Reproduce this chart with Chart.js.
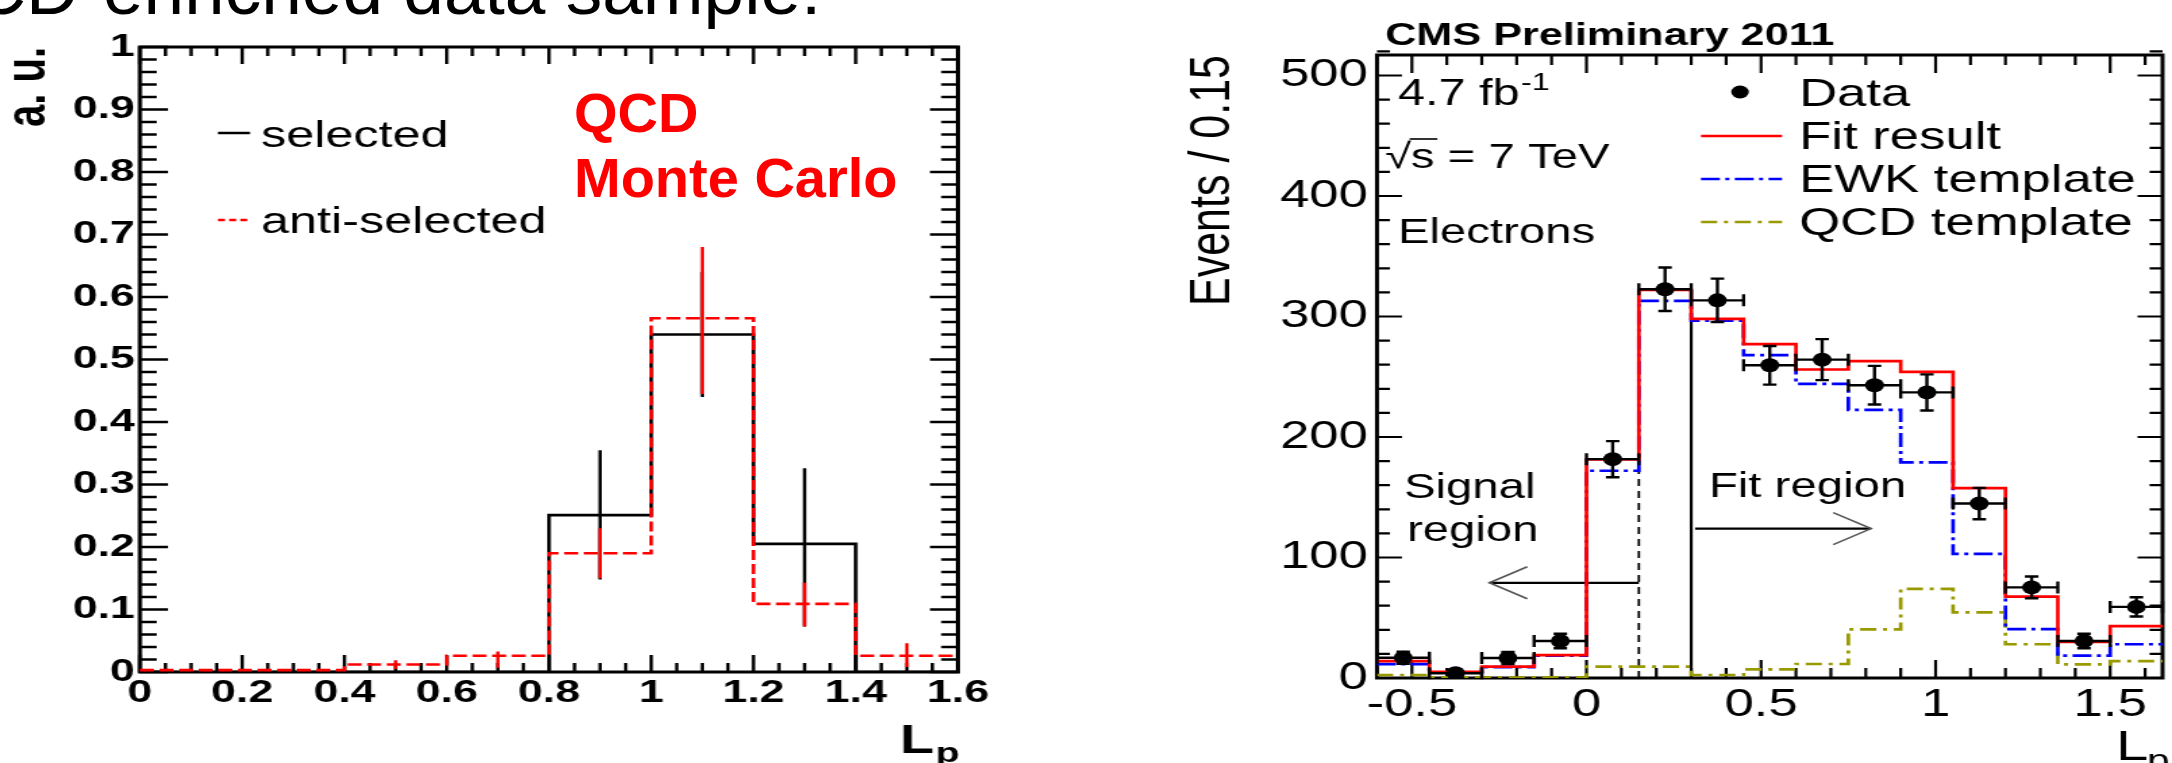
<!DOCTYPE html>
<html>
<head>
<meta charset="utf-8">
<title>QCD-enriched data sample</title>
<script src="https://cdn.jsdelivr.net/npm/chart.js@4.4.1/dist/chart.umd.min.js"></script>
<style>
  html, body { margin: 0; padding: 0; background: #fff; }
  body { width: 2172px; height: 763px; position: relative; overflow: hidden; font-family: "Liberation Sans", Arial, sans-serif; }
  #slide-title { position: absolute; top: -48px; left: -83px; font-size: 73px; line-height: 73px; white-space: nowrap; color: #000; }
  #mc-label { position: absolute; left: 574px; top: 80px; font-size: 56px; line-height: 65px; font-weight: bold; color: #ff0000; white-space: nowrap; }
  #left-chart { position: absolute; left: 0; top: 0; }
  #right-chart { position: absolute; left: 1140px; top: 0; }
</style>
</head>
<body>
<div id="slide-title">QCD-enriched data sample:</div>
<canvas id="left-chart" width="786" height="763" style="width:1100px;height:763px"></canvas>
<canvas id="right-chart" width="764" height="763" style="width:1032px;height:763px"></canvas>
<div id="mc-label">QCD<br>Monte Carlo</div>
<script>
const FONT = '"Liberation Sans", Arial, sans-serif';

// left panel: QCD Monte Carlo, selected vs anti-selected
const edgesL = [0, 0.2, 0.4, 0.6, 0.8, 1.0, 1.2, 1.4, 1.6];
const selected = [0, 0, 0, 0, 0.251, 0.54, 0.205, 0];
const antiSelected = [0.003, 0.003, 0.012, 0.026, 0.19, 0.566, 0.109, 0.026];
const selErrX = [0.9, 1.1, 1.3];
const selErrLo = [0.148, 0.44, 0.073];
const selErrHi = [0.355, 0.64, 0.326];
const antiErrX = [0.5, 0.7, 0.9, 1.1, 1.3, 1.5];
const antiErrLo = [0.005, 0.007, 0.15, 0.445, 0.073, 0.008];
const antiErrHi = [0.019, 0.033, 0.23, 0.68, 0.143, 0.046];
const xTicksL = [0, 0.2, 0.4, 0.6, 0.8, 1, 1.2, 1.4, 1.6];
const xLabelsL = ["0", "0.2", "0.4", "0.6", "0.8", "1", "1.2", "1.4", "1.6"];
const yTicksL = [0, 0.1, 0.2, 0.3, 0.4, 0.5, 0.6, 0.7, 0.8, 0.9, 1];
const yLabelsL = ["0", "0.1", "0.2", "0.3", "0.4", "0.5", "0.6", "0.7", "0.8", "0.9", "1"];

// right panel: CMS electrons, Lp fit
const edgesR = [-0.6, -0.45, -0.3, -0.15, 0, 0.15, 0.3, 0.45, 0.6, 0.75, 0.9, 1.05, 1.2, 1.35, 1.5, 1.65];
const fitR = [14, 5, 9.4, 19, 181.5, 322, 298, 277, 256, 263, 254, 157.5, 67.5, 30, 43];
const ewkR = [11.5, 4.5, 9, 18.5, 172, 313, 296.5, 268, 244, 222.5, 179, 103, 40.5, 18.5, 28];
const qcdR = [2.5, 0.5, 0.4, 0.5, 9.4, 9.4, 2.5, 7.2, 11.6, 40.4, 74, 54.5, 28, 11.3, 14];
const dataR = [16.8, 4, 16.6, 30.7, 181.6, 322.6, 313.4, 259.5, 264.2, 243, 237, 144.8, 75.2, 30.7, 59];
const dataErrR = [5, 3, 5, 6, 15, 18, 18, 16, 17, 16, 15, 13, 9, 6, 8];
const xTicksR = [-0.5, 0, 0.5, 1, 1.5];
const xLabelsR = ["-0.5", "0", "0.5", "1", "1.5"];
const yTicksR = [0, 100, 200, 300, 400, 500];
const yLabelsR = ["0", "100", "200", "300", "400", "500"];
// region separators and arrows (data coordinates)
const signalCutX = 0.15, signalCutTop = 190;
const fitCutX = 0.3, fitCutTop = 322;
const signalArrowX = [0.15, -0.278], signalArrowY = 79;
const fitArrowX = [0.311, 0.815], fitArrowY = 124;

// place the slide title so that "enriched" starts where it does in the slide
(function () {
  const c = document.createElement("canvas").getContext("2d");
  c.font = "73px " + FONT;
  document.getElementById("slide-title").style.left = (103 - c.measureText("QCD-").width) + "px";
})();

function histPoints(edges, values) {
  const pts = values.map((v, i) => ({ x: edges[i], y: v }));
  pts.push({ x: edges[edges.length - 1], y: values[values.length - 1] });
  return pts;
}

function drawFrame(chart, o) {
  const { ctx, chartArea: a } = chart;
  const xs = chart.scales.x, ys = chart.scales.y;
  ctx.save();
  ctx.strokeStyle = "#000";
  ctx.lineWidth = o.tickWidth;
  ctx.beginPath();
  const nx = Math.round((xs.max - o.xStart) / o.xMinor);
  for (let i = 0; i <= nx; i++) {
    const v = o.xStart + i * o.xMinor;
    const major = Math.abs(v / o.xMajor - Math.round(v / o.xMajor)) < 1e-6;
    const len = major ? o.xLen[1] : o.xLen[0];
    const px = xs.getPixelForValue(v);
    ctx.moveTo(px, a.bottom); ctx.lineTo(px, a.bottom - len);
    ctx.moveTo(px, a.top); ctx.lineTo(px, a.top + len);
  }
  const ny = Math.round((ys.max - 0) / o.yMinor);
  for (let i = 0; i <= ny; i++) {
    const v = i * o.yMinor;
    const major = Math.abs(v / o.yMajor - Math.round(v / o.yMajor)) < 1e-6;
    const len = major ? o.yLen[1] : o.yLen[0];
    const py = ys.getPixelForValue(v);
    ctx.moveTo(a.left, py); ctx.lineTo(a.left + len, py);
    ctx.moveTo(a.right, py); ctx.lineTo(a.right - len, py);
  }
  ctx.stroke();
  ctx.lineWidth = o.frame;
  ctx.strokeRect(a.left, a.top, a.right - a.left, a.bottom - a.top);
  ctx.restore();
}

function drawVErrors(chart, xsVals, lo, hi, color, width) {
  const { ctx } = chart;
  const xs = chart.scales.x, ys = chart.scales.y;
  ctx.save();
  ctx.strokeStyle = color;
  ctx.lineWidth = width;
  ctx.beginPath();
  xsVals.forEach((x, i) => {
    const px = xs.getPixelForValue(x);
    ctx.moveTo(px, ys.getPixelForValue(lo[i]));
    ctx.lineTo(px, ys.getPixelForValue(hi[i]));
  });
  ctx.stroke();
  ctx.restore();
}

const leftDecor = {
  id: "leftDecor",
  beforeDatasetsDraw(chart) {
    drawFrame(chart, { frame: 3, tickWidth: 2.4, xStart: 0, xMinor: 0.05, xMajor: 0.2,
      yMinor: 0.02, yMajor: 0.1, xLen: [9, 17], yLen: [12, 20] });
  },
  afterDatasetDraw(chart, args) {
    const ds = chart.data.datasets[args.index];
    if (ds.errX) drawVErrors(chart, ds.errX, ds.errLo, ds.errHi, ds.borderColor, 2.4);
  },
  afterDraw(chart) {
    const { ctx } = chart;
    ctx.save();
    // legend
    const rows = [{ ds: chart.data.datasets[0], y: 133, base: 147 },
                  { ds: chart.data.datasets[1], y: 220, base: 233 }];
    ctx.font = "36px " + FONT;
    ctx.fillStyle = "#000";
    rows.forEach(r => {
      ctx.strokeStyle = r.ds.borderColor;
      ctx.lineWidth = 2.5;
      ctx.setLineDash(r.ds.borderDash ? [5, 3] : []);
      ctx.beginPath();
      ctx.moveTo(155.7, r.y); ctx.lineTo(178.6, r.y);
      ctx.stroke();
      ctx.fillText(r.ds.label, 186.4, r.base);
    });
    ctx.setLineDash([]);
    // axis label L_p
    ctx.font = "bold 40px " + FONT;
    ctx.fillText("L", 643, 753);
    const wl = ctx.measureText("L").width;
    ctx.font = "bold 28px " + FONT;
    ctx.fillText("p", 643 + wl + 1, 762);
    ctx.restore();
  }
};

new Chart(document.getElementById("left-chart"), {
  type: "line",
  data: {
    datasets: [
      { label: "selected", data: histPoints(edgesL, selected), borderColor: "#000000",
        borderWidth: 2.6, stepped: "before", pointRadius: 0, fill: false, order: 1,
        errX: selErrX, errLo: selErrLo, errHi: selErrHi },
      { label: "anti-selected", data: histPoints(edgesL, antiSelected), borderColor: "#ff0000",
        borderWidth: 2.6, borderDash: [10, 4], stepped: "before", pointRadius: 0, fill: false, order: 0,
        errX: antiErrX, errLo: antiErrLo, errHi: antiErrHi }
    ]
  },
  options: {
    responsive: false, animation: false, devicePixelRatio: 1, events: [],
    layout: { padding: { left: 0, top: 47, right: 786 - 684.5, bottom: 0 } },
    plugins: { legend: { display: false }, tooltip: { enabled: false } },
    scales: {
      x: {
        type: "linear", min: 0, max: 1.6,
        grid: { display: false, drawTicks: false }, border: { display: false },
        afterBuildTicks: s => { s.ticks = xTicksL.map(v => ({ value: v })); },
        afterFit: s => { s.height = 91; },
        ticks: { autoSkip: false, maxRotation: 0, minRotation: 0, padding: 2.3, color: "#000",
          font: { family: FONT, size: 32, weight: "bold" }, callback: (v, i) => xLabelsL[i] }
      },
      y: {
        type: "linear", min: 0, max: 1,
        grid: { display: false, drawTicks: false }, border: { display: false },
        afterBuildTicks: s => { s.ticks = yTicksL.map(v => ({ value: v })); },
        afterFit: s => { s.width = 100; },
        title: { display: true, text: "a. u.", align: "end", color: "#000",
          font: { family: FONT, size: 40, weight: "bold" }, padding: { top: -3, bottom: 0 } },
        ticks: { autoSkip: false, padding: 3.6, color: "#000",
          font: { family: FONT, size: 32, weight: "bold" }, callback: (v, i) => yLabelsL[i] }
      }
    }
  },
  plugins: [leftDecor]
});

const rightDecor = {
  id: "rightDecor",
  beforeDatasetsDraw(chart) {
    drawFrame(chart, { frame: 3, tickWidth: 2.2, xStart: -0.6, xMinor: 0.1, xMajor: 0.5,
      yMinor: 20, yMajor: 100, xLen: [10, 18], yLen: [9.6, 18.5] });
    const { ctx } = chart;
    const xs = chart.scales.x, ys = chart.scales.y;
    ctx.save();
    ctx.strokeStyle = "#000";
    // signal region boundary (dashed) and fit region boundary (solid)
    ctx.lineWidth = 1.8;
    ctx.setLineDash([7, 5]);
    ctx.beginPath();
    ctx.moveTo(xs.getPixelForValue(signalCutX), ys.getPixelForValue(0));
    ctx.lineTo(xs.getPixelForValue(signalCutX), ys.getPixelForValue(signalCutTop));
    ctx.stroke();
    ctx.setLineDash([]);
    ctx.lineWidth = 2.2;
    ctx.beginPath();
    ctx.moveTo(xs.getPixelForValue(fitCutX), ys.getPixelForValue(0));
    ctx.lineTo(xs.getPixelForValue(fitCutX), ys.getPixelForValue(fitCutTop));
    // arrow shafts
    ctx.moveTo(xs.getPixelForValue(signalArrowX[0]), ys.getPixelForValue(signalArrowY));
    ctx.lineTo(xs.getPixelForValue(signalArrowX[1]), ys.getPixelForValue(signalArrowY));
    ctx.moveTo(xs.getPixelForValue(fitArrowX[0]), ys.getPixelForValue(fitArrowY));
    ctx.lineTo(xs.getPixelForValue(fitArrowX[1]), ys.getPixelForValue(fitArrowY));
    ctx.stroke();
    // open arrow heads
    ctx.strokeStyle = "#555";
    ctx.lineWidth = 1.6;
    ctx.beginPath();
    const sx = xs.getPixelForValue(signalArrowX[1]), sy = ys.getPixelForValue(signalArrowY);
    ctx.moveTo(sx + 28, sy - 16); ctx.lineTo(sx, sy); ctx.lineTo(sx + 28, sy + 16);
    const fx = xs.getPixelForValue(fitArrowX[1]), fy = ys.getPixelForValue(fitArrowY);
    ctx.moveTo(fx - 28, fy - 16); ctx.lineTo(fx, fy); ctx.lineTo(fx - 28, fy + 16);
    ctx.stroke();
    ctx.restore();
  },
  afterDatasetDraw(chart, args) {
    const ds = chart.data.datasets[args.index];
    if (!ds.isData) return;
    const { ctx } = chart;
    const xs = chart.scales.x, ys = chart.scales.y;
    ctx.save();
    ctx.strokeStyle = "#000";
    ctx.lineWidth = 2.4;
    ctx.beginPath();
    dataR.forEach((v, i) => {
      const xl = xs.getPixelForValue(edgesR[i]), xr = xs.getPixelForValue(edgesR[i + 1]);
      const xc = (xl + xr) / 2, yc = ys.getPixelForValue(v);
      const yt = ys.getPixelForValue(v + dataErrR[i]);
      const yb = ys.getPixelForValue(Math.max(v - dataErrR[i], 0));
      ctx.moveTo(xl, yc); ctx.lineTo(xr, yc);
      ctx.moveTo(xl, yc - 6); ctx.lineTo(xl, yc + 6);
      ctx.moveTo(xr, yc - 6); ctx.lineTo(xr, yc + 6);
      ctx.moveTo(xc, yt); ctx.lineTo(xc, yb);
      ctx.moveTo(xc - 5, yt); ctx.lineTo(xc + 5, yt);
      ctx.moveTo(xc - 5, yb); ctx.lineTo(xc + 5, yb);
    });
    ctx.stroke();
    ctx.restore();
  },
  afterDraw(chart) {
    const { ctx } = chart;
    const ds = chart.data.datasets;
    ctx.save();
    ctx.fillStyle = "#000";
    ctx.font = "bold 32px " + FONT;
    ctx.fillText("CMS Preliminary 2011", 181.4, 45);
    ctx.font = "36px " + FONT;
    ctx.fillText("4.7 fb", 191, 105);
    const wfb = ctx.measureText("4.7 fb").width;
    ctx.font = "24px " + FONT;
    ctx.fillText("-1", 191 + wfb + 1, 90);
    ctx.font = "35px " + FONT;
    ctx.fillText("\u221A", 181.4, 168);
    const wr = ctx.measureText("\u221A").width;
    ctx.fillText("s = 7 TeV", 181.4 + wr, 168);
    const ws = ctx.measureText("s").width;
    ctx.lineWidth = 1.6;
    ctx.strokeStyle = "#000";
    ctx.beginPath();
    ctx.moveTo(181.4 + wr - 1, 139); ctx.lineTo(181.4 + wr + ws + 2, 139);
    ctx.stroke();
    ctx.fillText("Electrons", 191, 243);
    ctx.fillText("Signal", 195.4, 498);
    ctx.fillText("region", 197.7, 541);
    ctx.fillText("Fit region", 421.2, 497);
    // legend
    ctx.font = "39px " + FONT;
    ctx.beginPath();
    ctx.arc(444.2, 92, 6.5, 0, Math.PI * 2);
    ctx.fill();
    ctx.fillText(ds[0].label, 487.9, 106);
    [[ds[1], 136, 149], [ds[2], 179, 192], [ds[3], 222, 235]].forEach(([d, y, b]) => {
      ctx.strokeStyle = d.borderColor;
      ctx.lineWidth = 2.7;
      ctx.setLineDash(d.borderDash || []);
      ctx.beginPath();
      ctx.moveTo(415.3, y); ctx.lineTo(475.3, y);
      ctx.stroke();
      ctx.fillText(d.label, 487.9, b);
    });
    ctx.setLineDash([]);
    // axis label L_p
    ctx.font = "43px " + FONT;
    ctx.fillText("L", 722.6, 760);
    ctx.font = "30px " + FONT;
    ctx.fillText("p", 745.5, 770);
    ctx.restore();
  }
};

const centersR = dataR.map((_, i) => (edgesR[i] + edgesR[i + 1]) / 2);

new Chart(document.getElementById("right-chart"), {
  type: "line",
  data: {
    datasets: [
      { label: "Data", isData: true, data: centersR.map((c, i) => ({ x: c, y: dataR[i] })),
        showLine: false, pointRadius: 7, pointBorderWidth: 0, pointBackgroundColor: "#000",
        borderColor: "#000", order: 0 },
      { label: "Fit result", data: histPoints(edgesR, fitR), borderColor: "#ff0000",
        borderWidth: 2.7, stepped: "before", pointRadius: 0, fill: false, order: 1 },
      { label: "EWK template", data: histPoints(edgesR, ewkR), borderColor: "#0000ff",
        borderWidth: 2.7, borderDash: [14, 4, 3, 4], stepped: "before", pointRadius: 0, fill: false, order: 2 },
      { label: "QCD template", data: histPoints(edgesR, qcdR), borderColor: "#999900",
        borderWidth: 2.7, borderDash: [12, 5, 3, 5], stepped: "before", pointRadius: 0, fill: false, order: 3 }
    ]
  },
  options: {
    responsive: false, animation: false, devicePixelRatio: 1, events: [],
    layout: { padding: { left: 0, top: 55, right: 764 - 762.5, bottom: 0 } },
    plugins: { legend: { display: false }, tooltip: { enabled: false } },
    scales: {
      x: {
        type: "linear", min: -0.6, max: 1.65,
        grid: { display: false, drawTicks: false }, border: { display: false },
        afterBuildTicks: s => { s.ticks = xTicksR.map(v => ({ value: v })); },
        afterFit: s => { s.height = 85; },
        ticks: { autoSkip: false, maxRotation: 0, minRotation: 0, padding: 3.5, color: "#000",
          font: { family: FONT, size: 39 }, callback: (v, i) => xLabelsR[i] }
      },
      y: {
        type: "linear", min: 0, max: 517,
        grid: { display: false, drawTicks: false }, border: { display: false },
        afterBuildTicks: s => { s.ticks = yTicksR.map(v => ({ value: v })); },
        afterFit: s => { s.width = 175.45; },
        title: { display: true, text: "Events / 0.15", align: "end", color: "#000",
          font: { family: FONT, size: 43 }, padding: { top: 28, bottom: 0 } },
        ticks: { autoSkip: false, padding: 6.7, color: "#000",
          font: { family: FONT, size: 39 }, callback: (v, i) => yLabelsR[i] }
      }
    }
  },
  plugins: [rightDecor]
});
</script>
</body>
</html>
